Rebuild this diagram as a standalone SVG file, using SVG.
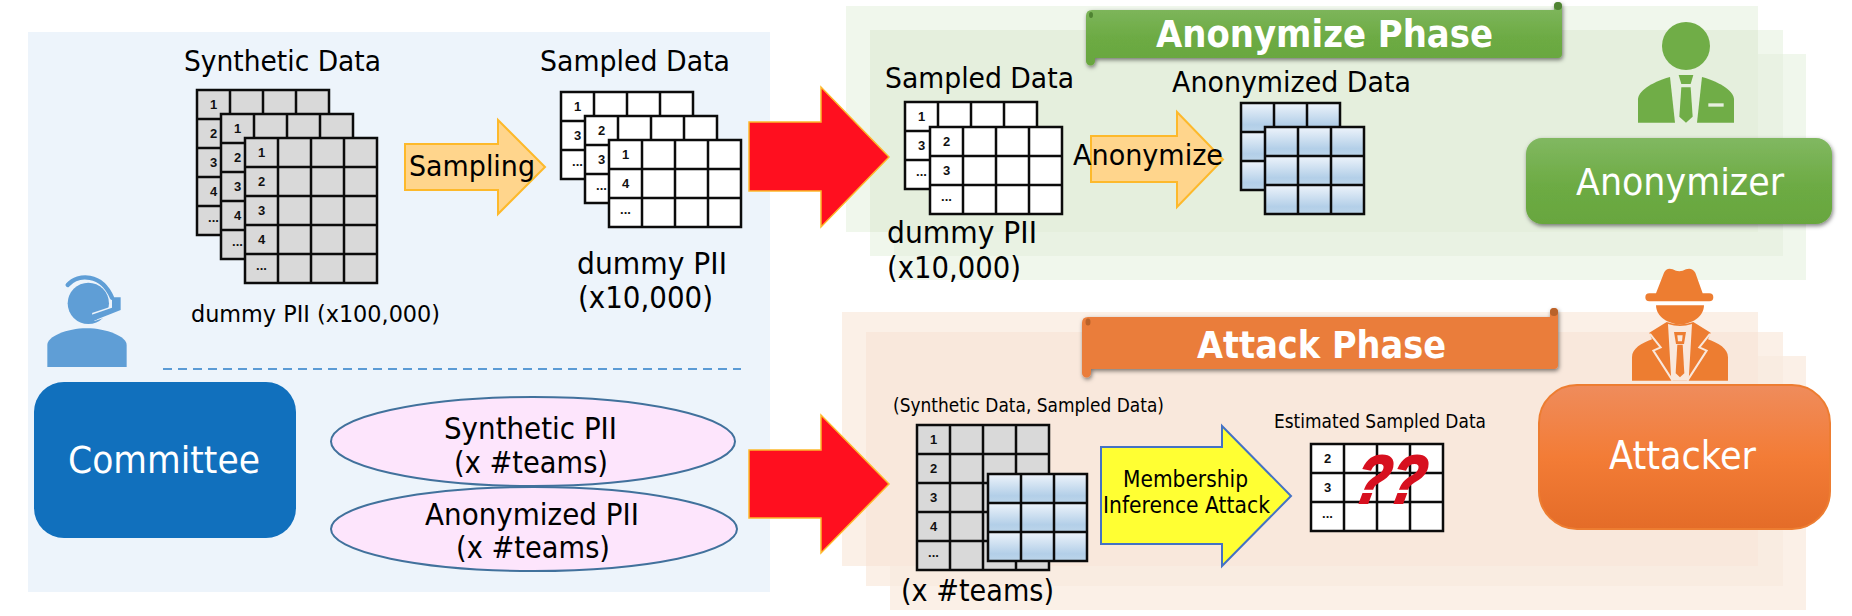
<svg xmlns="http://www.w3.org/2000/svg" xmlns:xlink="http://www.w3.org/1999/xlink" width="1852" height="616" viewBox="0 0 1852 616">
<style>
text{font-family:"DejaVu Sans","Liberation Sans",sans-serif;fill:#000}
.n{font-family:"Liberation Sans",Arial,sans-serif;font-size:13px;font-weight:bold;text-anchor:middle;fill:#111}
.w{fill:#fff}
.b{font-weight:bold;fill:#fff}
.ln{stroke:#0b0b0b;stroke-width:2.5;fill:none}
.pa{fill:#ffd58c;stroke:#fdb92b;stroke-width:2}
.red{fill:#ff0f1f;stroke:#fdb92b;stroke-width:1.5}
.el{fill:#fde5fc;stroke:#41719c;stroke-width:2}
</style>
<defs>
<linearGradient id="cell" x1="0" y1="0" x2="0" y2="1"><stop offset="0" stop-color="#eef4fb"/><stop offset=".75" stop-color="#b3cfe8"/><stop offset="1" stop-color="#bcd5ea"/></linearGradient>
<linearGradient id="gb" x1="0" y1="0" x2="0" y2="1"><stop offset="0" stop-color="#81b861"/><stop offset=".55" stop-color="#6dab44"/><stop offset="1" stop-color="#68a63e"/></linearGradient>
<linearGradient id="ab" x1="0" y1="0" x2="0" y2="1"><stop offset="0" stop-color="#ef8c5c"/><stop offset=".5" stop-color="#f37c36"/><stop offset="1" stop-color="#e46c28"/></linearGradient>
<filter id="sh" x="-5%" y="-20%" width="110%" height="150%"><feDropShadow dx="1" dy="2" stdDeviation="2" flood-color="#000" flood-opacity=".5"/></filter>
<g id="g5"><rect width="132" height="145" fill="#d9d9d9"/><path class="ln" d="M0 0H132V145H0ZM33 0V145M66 0V145M99 0V145M0 29H132M0 58H132M0 87H132M0 116H132"/></g>
<g id="w3"><rect width="132" height="87" fill="#fff"/><path class="ln" d="M0 0H132V87H0ZM33 0V87M66 0V87M99 0V87M0 29H132M0 58H132"/></g>
<g id="c3"><rect width="33" height="29" fill="url(#cell)"/></g>
<g id="b3"><use href="#c3"/><use href="#c3" x="33"/><use href="#c3" x="66"/><use href="#c3" y="29"/><use href="#c3" x="33" y="29"/><use href="#c3" x="66" y="29"/><use href="#c3" y="58"/><use href="#c3" x="33" y="58"/><use href="#c3" x="66" y="58"/><path class="ln" d="M0 0H99V87H0ZM33 0V87M66 0V87M0 29H99M0 58H99"/></g>
</defs>

<g id="committee-panel"><rect x="28" y="32" width="742" height="560" fill="#edf4fb"/></g>

<g id="anonymize-panel">
<rect x="846" y="6" width="912" height="226" fill="#f0f7ec"/>
<rect x="870" y="30" width="913" height="226" fill="#f0f7ec"/>
<rect x="894" y="54" width="912" height="226" fill="#f0f7ec"/>
<rect x="894" y="54" width="889" height="202" fill="#e9f2e3"/>
<rect x="870" y="30" width="888" height="202" fill="#e5efdd"/>
</g>
<g id="attack-panel">
<rect x="842" y="312" width="916" height="254" fill="#fbf0e7"/>
<rect x="866" y="332" width="917" height="254" fill="#fbf0e7"/>
<rect x="890" y="356" width="916" height="254" fill="#fbf0e7"/>
<rect x="890" y="356" width="893" height="230" fill="#f9ece1"/>
<rect x="866" y="332" width="892" height="234" fill="#f9e8dc"/>
</g>

<g id="synthetic-data">
<text x="184" y="71" font-size="29" textLength="197" lengthAdjust="spacingAndGlyphs">Synthetic Data</text>
<g transform="translate(197,90)"><use href="#g5"/><text class="n" x="16.5" y="19">1</text><text class="n" x="16.5" y="48">2</text><text class="n" x="16.5" y="77">3</text><text class="n" x="16.5" y="106">4</text><text class="n" x="16.5" y="132">...</text></g>
<g transform="translate(221,114)"><use href="#g5"/><text class="n" x="16.5" y="19">1</text><text class="n" x="16.5" y="48">2</text><text class="n" x="16.5" y="77">3</text><text class="n" x="16.5" y="106">4</text><text class="n" x="16.5" y="132">...</text></g>
<g transform="translate(245,138)"><use href="#g5"/><text class="n" x="16.5" y="19">1</text><text class="n" x="16.5" y="48">2</text><text class="n" x="16.5" y="77">3</text><text class="n" x="16.5" y="106">4</text><text class="n" x="16.5" y="132">...</text></g>
<text x="191" y="322" font-size="23.5" textLength="249" lengthAdjust="spacingAndGlyphs">dummy PII (x100,000)</text>
</g>

<g id="sampling">
<path class="pa" d="M405 144H498V120L545 167L498 214V190H405Z"/>
<text x="409" y="176" font-size="29" textLength="126" lengthAdjust="spacingAndGlyphs">Sampling</text>
</g>

<g id="sampled-data">
<text x="540" y="71" font-size="29" textLength="190" lengthAdjust="spacingAndGlyphs">Sampled Data</text>
<g transform="translate(561,92)"><use href="#w3"/><text class="n" x="16.5" y="19">1</text><text class="n" x="16.5" y="48">3</text><text class="n" x="16.5" y="74">...</text></g>
<g transform="translate(585,116)"><use href="#w3"/><text class="n" x="16.5" y="19">2</text><text class="n" x="16.5" y="48">3</text><text class="n" x="16.5" y="74">...</text></g>
<g transform="translate(609,140)"><use href="#w3"/><text class="n" x="16.5" y="19">1</text><text class="n" x="16.5" y="48">4</text><text class="n" x="16.5" y="74">...</text></g>
<text x="577" y="274" font-size="30" textLength="150" lengthAdjust="spacingAndGlyphs">dummy PII</text>
<text x="578" y="308" font-size="30" textLength="135" lengthAdjust="spacingAndGlyphs">(x10,000)</text>
</g>

<g id="committee-icon" transform="translate(30,265) scale(.3333)" fill="#5f9ed6">
<circle cx="175" cy="115" r="62"/>
<path d="M52 306V240C52 215 110 190 170 190C230 190 290 215 290 240V306Z"/>
<path d="M113 60C145 25 215 25 246 98" fill="none" stroke="#5f9ed6" stroke-width="13" stroke-linecap="round"/>
<path d="M190 156L262 132" stroke="#edf4fb" stroke-width="26" fill="none"/>
<path d="M246 97H272V135L202 163A10 10 0 1 1 194 146L246 128Z"/>
</g>

<g id="divider"><path d="M163 369H741" stroke="#5b9bd5" stroke-width="2" stroke-dasharray="9 6" fill="none"/></g>

<g id="committee">
<rect x="34" y="382" width="262" height="156" rx="30" fill="#1170bd"/>
<text class="w" x="68" y="473" font-size="38" textLength="192" lengthAdjust="spacingAndGlyphs">Committee</text>
</g>

<g id="synthetic-pii">
<ellipse class="el" cx="533" cy="441.5" rx="202" ry="44.5"/>
<text x="444" y="439" font-size="30" textLength="173" lengthAdjust="spacingAndGlyphs">Synthetic PII</text>
<text x="454" y="473" font-size="30" textLength="154" lengthAdjust="spacingAndGlyphs">(x #teams)</text>
</g>
<g id="anonymized-pii">
<ellipse class="el" cx="534" cy="529" rx="203" ry="42"/>
<text x="425" y="525" font-size="30" textLength="214" lengthAdjust="spacingAndGlyphs">Anonymized PII</text>
<text x="456" y="558" font-size="30" textLength="154" lengthAdjust="spacingAndGlyphs">(x #teams)</text>
</g>

<g id="connectors">
<path class="red" d="M749 122H821V87L889 157L821 227V191H749Z"/>
<path class="red" d="M749 450H821V415L889 484L821 553V518H749Z"/>
</g>

<g id="anonymize-banner">
<path d="M1086 16Q1086 10 1092 10H1554V6A4 4 0 0 1 1562 6V54Q1562 58 1558 58H1095V61A4.5 4.5 0 0 1 1086 61Z" fill="url(#gb)" filter="url(#sh)"/>
<ellipse cx="1091" cy="15" rx="2" ry="3" fill="#4f8332"/><circle cx="1558" cy="6" r="4" fill="#4f8332"/>
<text class="b" x="1156" y="47" font-size="37" textLength="337" lengthAdjust="spacingAndGlyphs">Anonymize Phase</text>
</g>

<g id="attack-banner">
<path d="M1082 323Q1082 317 1088 317H1550V312A4 4 0 0 1 1558 312V365Q1558 369 1554 369H1091V373A4.5 4.5 0 0 1 1082 373Z" fill="#ea7d3b" filter="url(#sh)"/>
<ellipse cx="1088" cy="322" rx="2.5" ry="3.5" fill="#b9622a"/><circle cx="1554" cy="312" r="4" fill="#b9622a"/>
<text class="b" x="1197" y="358" font-size="37" textLength="249" lengthAdjust="spacingAndGlyphs">Attack Phase</text>
</g>

<g id="anon-sampled">
<text x="885" y="88" font-size="29" textLength="189" lengthAdjust="spacingAndGlyphs">Sampled Data</text>
<g transform="translate(905,102)"><use href="#w3"/><text class="n" x="16.5" y="19">1</text><text class="n" x="16.5" y="48">3</text><text class="n" x="16.5" y="74">...</text></g>
<g transform="translate(930,127)"><use href="#w3"/><text class="n" x="16.5" y="19">2</text><text class="n" x="16.5" y="48">3</text><text class="n" x="16.5" y="74">...</text></g>
<text x="887" y="243" font-size="30" textLength="150" lengthAdjust="spacingAndGlyphs">dummy PII</text>
<text x="887" y="278" font-size="30" textLength="134" lengthAdjust="spacingAndGlyphs">(x10,000)</text>
</g>

<g id="anonymize-step">
<path class="pa" d="M1091 136H1177V112L1223 159.5L1177 207V182H1091Z"/>
<text x="1073" y="165" font-size="29" textLength="150" lengthAdjust="spacingAndGlyphs">Anonymize</text>
</g>

<g id="anonymized-data">
<text x="1172" y="92" font-size="29" textLength="239" lengthAdjust="spacingAndGlyphs">Anonymized Data</text>
<use href="#b3" x="1241" y="103"/>
<use href="#b3" x="1265" y="127"/>
</g>

<g id="anonymizer-icon" transform="translate(1620,10) scale(.3333)" fill="#70ad47">
<circle cx="198" cy="108" r="72"/>
<path d="M54 338V268C54 245 90 218 150 201L165 338Z"/>
<path d="M246 201C306 218 342 245 342 268V338H231Z"/>
<path d="M176 195H220L212 222H184Z"/>
<path d="M184 232H212L218 320L198 338L178 320Z"/>
<rect x="265" y="280" width="46" height="10" fill="#e7efdf"/>
</g>
<g id="anonymizer">
<rect x="1526" y="138" width="306" height="86" rx="16" fill="url(#gb)" filter="url(#sh)"/>
<text class="w" x="1576" y="195" font-size="38" textLength="208" lengthAdjust="spacingAndGlyphs">Anonymizer</text>
</g>

<g id="attack-input">
<text x="893" y="412" font-size="19.5" textLength="271" lengthAdjust="spacingAndGlyphs">(Synthetic Data, Sampled Data)</text>
<g transform="translate(917,425)"><use href="#g5"/><text class="n" x="16.5" y="19">1</text><text class="n" x="16.5" y="48">2</text><text class="n" x="16.5" y="77">3</text><text class="n" x="16.5" y="106">4</text><text class="n" x="16.5" y="132">...</text></g>
<use href="#b3" x="988" y="474"/>
<text x="901" y="601" font-size="30" textLength="153" lengthAdjust="spacingAndGlyphs">(x #teams)</text>
</g>

<g id="membership-inference">
<path d="M1101 447H1222V426L1291 496L1222 566V544H1101Z" fill="#ffff33" stroke="#4472c4" stroke-width="2"/>
<text x="1123" y="487" font-size="22.5" textLength="125" lengthAdjust="spacingAndGlyphs">Membership</text>
<text x="1103" y="513" font-size="22.5" textLength="167" lengthAdjust="spacingAndGlyphs">Inference Attack</text>
</g>

<g id="estimated-data">
<text x="1274" y="428" font-size="19.5" textLength="212" lengthAdjust="spacingAndGlyphs">Estimated Sampled Data</text>
<g transform="translate(1311,444)"><use href="#w3"/><text class="n" x="16.5" y="19">2</text><text class="n" x="16.5" y="48">3</text><text class="n" x="16.5" y="74">...</text></g>
<text transform="translate(1351,503) skewX(-12)" font-size="68" font-weight="bold" font-style="italic" stroke="#d7101f" stroke-width="2" style="font-family:'Liberation Sans',Arial,sans-serif;fill:#d7101f" textLength="70" lengthAdjust="spacingAndGlyphs">??</text>
</g>

<g id="attacker-icon" transform="translate(1620,260) scale(.3333)" fill="#ed7d31">
<path d="M108 100L132 38Q140 22 158 28Q178 40 198 28Q216 22 226 38L248 100H268A12 12 0 0 1 268 124H88A12 12 0 0 1 88 100Z"/>
<path d="M108 136H252C252 170 215 193 180 193C145 193 108 170 108 136Z"/>
<path d="M36 362V292C36 265 65 250 96 238L88 218L140 186Q180 200 220 186L272 218L264 238C295 250 324 265 324 292V362Z"/>
<path d="M144 192Q180 204 216 192L206 362H154Z" fill="#f9e8dc"/>
<path d="M162 216H198L192 252H168Z"/>
<path d="M172 226H188L186 244H174Z" fill="#f9e8dc"/>
<path d="M172 254H188L193 340L180 352L167 340Z"/>
<path d="M90 222L122 262L100 272L158 362M270 222L238 262L260 272L202 362" fill="none" stroke="#f9e8dc" stroke-width="6"/>
</g>
<g id="attacker">
<rect x="1539" y="385" width="291" height="144" rx="38" fill="url(#ab)" stroke="#ed7d31" stroke-width="2"/>
<text class="w" x="1609" y="469" font-size="39" textLength="147" lengthAdjust="spacingAndGlyphs">Attacker</text>
</g>
</svg>
